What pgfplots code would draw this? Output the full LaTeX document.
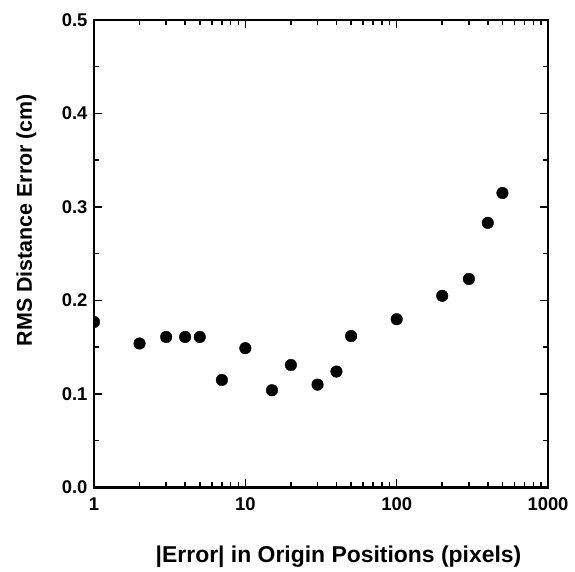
\documentclass[border=0pt]{standalone}
\usepackage{pgfplots}
\pgfplotsset{compat=1.18}
\usepackage{fontspec}
\setmainfont{Liberation Sans}
\begin{document}
\begin{tikzpicture}
\begin{axis}[name=ax,
 scale only axis, width=454bp, height=467.5bp,
 xmode=log, xmin=1, xmax=1000, ymin=0, ymax=0.5,
 xtick={1,10,100,1000}, xticklabels={1,10,100,1000},
 minor xtick={2,3,4,5,6,7,8,9,20,30,40,50,60,70,80,90,200,300,400,500,600,700,800,900},
 ytick={0,0.1,0.2,0.3,0.4,0.5}, yticklabels={0.0,0.1,0.2,0.3,0.4,0.5},
 minor ytick={0.05,0.15,0.25,0.35,0.45},
 tick align=inside,
 major tick length=8bp, minor tick length=5bp,
 axis line style={line width=2.2bp},
 every tick/.style={black, line width=1.5bp},
 clip marker paths=true,
 /pgf/number format/assume math mode=true,
 tick label style={font=\fontsize{18.5}{20}\selectfont\bfseries},
 xticklabel style={yshift=-7bp},
 yticklabel style={xshift=-3bp},
 xlabel={|Error| in Origin Positions (pixels)},
 ylabel={RMS Distance Error (cm)},
 label style={font=\fontsize{21.5}{24}\selectfont\bfseries},
 xlabel style={at={(axis description cs:0.5385,-0.1615)}, anchor=base, font=\fontsize{23}{25}\selectfont\bfseries},
 ylabel style={at={(axis description cs:-0.137,0.572)}, anchor=base},
]
\addplot[only marks, mark=*, mark size=5.8bp, mark options={fill=black, draw=black}] coordinates {
(1,0.177) (2,0.154) (3,0.161) (4,0.161) (5,0.161) (7,0.115) (10,0.149)
(15,0.104) (20,0.131) (30,0.110) (40,0.124) (50,0.162) (100,0.180)
(200,0.205) (300,0.223) (400,0.283) (500,0.315)
};
\end{axis}
\path ([shift={(-94bp,-79.5bp)}]ax.south west) rectangle ([shift={(27bp,20bp)}]ax.north east);
\end{tikzpicture}
\end{document}
